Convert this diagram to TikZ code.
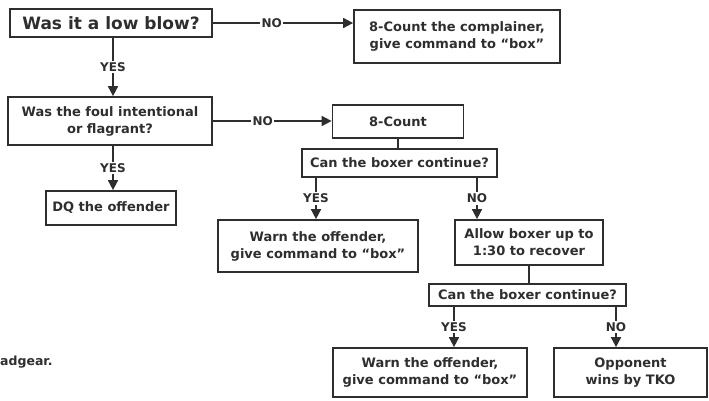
\documentclass[tikz,border=0pt]{standalone}
\usepackage{fontspec}
\setmainfont{DejaVu Sans}
\usetikzlibrary{arrows.meta}
\definecolor{ink}{HTML}{2E2E2E}
\tikzset{
  box/.style={draw=ink, line width=1.7pt, text=ink, font=\bfseries\fontsize{13}{17}\selectfont, align=center, inner sep=0pt},
  conn/.style={draw=ink, line width=1.6pt},
  arr/.style={conn, -{Triangle[width=10pt,length=10pt]}},
  lab/.style={fill=white, text=ink, font=\bfseries\fontsize{12}{14}\selectfont, inner sep=1.5pt}
}
\begin{document}
\begin{tikzpicture}[x=1pt,y=-1pt]
\useasboundingbox (0,0) rectangle (709,400);
% boxes
\node[box, minimum width=202pt, minimum height=28pt, font=\bfseries\fontsize{17}{19}\selectfont] (b1) at (111,23) {Was it a low blow?};
\node[box, minimum width=206pt, minimum height=53pt] (b2) at (457,36.5) {8-Count the complainer,\\give command to “box”};
\node[box, minimum width=204pt, minimum height=48pt] (b3) at (110,121) {Was the foul intentional\\or flagrant?};
\node[box, minimum width=130pt, minimum height=34pt] (dq) at (111,208) {DQ the offender};
\node[box, minimum width=131pt, minimum height=33pt] (b4) at (398,121.5) {8-Count};
\node[box, minimum width=195pt, minimum height=28pt] (b5) at (399.5,163) {Can the boxer continue?};
\node[box, minimum width=200pt, minimum height=52pt] (b6) at (318,246) {Warn the offender,\\give command to “box”};
\node[box, minimum width=148pt, minimum height=45pt] (b7) at (529,242.5) {Allow boxer up to\\1:30 to recover};
\node[box, minimum width=197pt, minimum height=22pt] (b8) at (527.5,295) {Can the boxer continue?};
\node[box, minimum width=194pt, minimum height=49pt] (b9) at (430,372.5) {Warn the offender,\\give command to “box”};
\node[box, minimum width=153pt, minimum height=49pt] (b10) at (630.5,372.5) {Opponent\\wins by TKO};
\node[anchor=west, inner sep=0pt, text=ink, font=\bfseries\fontsize{12.5}{14}\selectfont] (hg) at (0,362) {adgear.};
% helper coordinates
\coordinate (c1) at (113,0);
\coordinate (c5y) at (316,0);
\coordinate (c5n) at (477,0);
\coordinate (c8y) at (454,0);
\coordinate (c8n) at (616,0);
% connectors
\draw[arr] (b1.east) -- node[lab, pos=0.42]{NO} (b1.east -| b2.west);
\draw[arr] (c1 |- b1.south) -- node[lab]{YES} (c1 |- b3.north);
\draw[arr] (b3.east) -- node[lab, pos=0.42]{NO} (b3.east -| b4.west);
\draw[arr] (c1 |- b3.south) -- node[lab]{YES} (c1 |- dq.north);
\draw[conn] (b4.south) -- (b4.south |- b5.north);
\draw[arr] (c5y |- b5.south) -- node[lab]{YES} (c5y |- b6.north);
\draw[arr] (c5n |- b5.south) -- node[lab]{NO} (c5n |- b7.north);
\draw[conn] (b7.south) -- (b7.south |- b8.north);
\draw[arr] (c8y |- b8.south) -- node[lab]{YES} (c8y |- b9.north);
\draw[arr] (c8n |- b8.south) -- node[lab]{NO} (c8n |- b10.north);
\end{tikzpicture}
\end{document}
